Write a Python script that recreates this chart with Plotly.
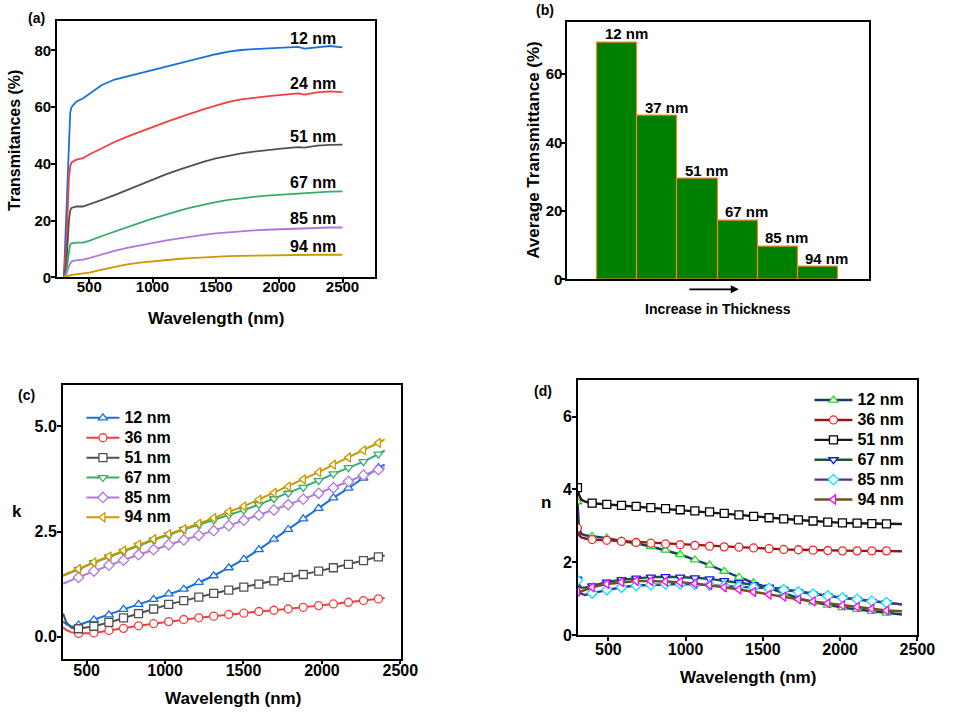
import plotly.graph_objects as go

W, H = 956, 718
FONT = "Liberation Sans, Arial, sans-serif"


def px(x):
    return x / W


def py(y):
    return 1 - y / H


# ---------------- Panel (a): transmittance spectra ----------------
a_wl = [300, 320, 340, 350, 360, 380, 400, 450, 500, 600, 700, 800, 900, 1000, 1100, 1200,
        1300, 1400, 1500, 1600, 1700, 1800, 1900, 2000, 2100, 2150, 2200, 2250, 2300, 2400, 2500]
a_names = ["12 nm", "24 nm", "51 nm", "67 nm", "85 nm", "94 nm"]
a_t12 = [0, 25, 52, 58, 60, 61, 62, 63, 64.5, 67.8, 69.7, 70.8, 72, 73.2, 74.3, 75.4,
         76.4, 77.4, 78.6, 79.5, 80.1, 80.4, 80.6, 80.8, 81.0, 81.2, 80.6, 80.8, 81.2, 81.5, 81.0]
a_t24 = [0, 12, 35, 39, 40.5, 41, 41.5, 42, 43.3, 45.5, 47.7, 49.6, 51.3, 53.1, 54.6, 56.2,
         57.8, 59.2, 60.5, 61.8, 62.7, 63.3, 63.8, 64.2, 64.6, 64.8, 64.4, 64.8, 65.2, 65.5, 65.3]
a_t51 = [0, 5, 20, 23.5, 24.5, 24.8, 25, 25, 25.7, 27.3, 29, 30.8, 32.7, 34.6, 36.2, 37.8,
         39.3, 40.7, 41.9, 42.9, 43.7, 44.3, 44.9, 45.3, 45.7, 45.9, 45.7, 46.0, 46.4, 46.7, 46.8]
a_t67 = [0, 2, 9, 11.5, 12, 12.2, 12.3, 12.3, 12.9, 14.6, 16.2, 17.6, 19.2, 20.7, 22.1, 23.4,
         24.6, 25.6, 26.5, 27.3, 27.9, 28.4, 28.8, 29.1, 29.4, 29.5, 29.5, 29.8, 30.0, 30.2, 30.3]
a_t85 = [0, 1, 4, 5, 5.6, 5.9, 6.0, 6.3, 6.8, 8.1, 9.4, 10.4, 11.3, 12.2, 13.0, 13.7,
         14.4, 15.0, 15.5, 15.9, 16.3, 16.6, 16.8, 17.0, 17.2, 17.3, 17.3, 17.4, 17.5, 17.6, 17.6]
a_t94 = [0, 0.3, 0.7, 0.8, 0.9, 1.0, 1.1, 1.4, 1.7, 2.8, 3.8, 4.6, 5.2, 5.7, 6.1, 6.5,
         6.8, 7.1, 7.3, 7.5, 7.6, 7.7, 7.8, 7.9, 7.9, 8.0, 8.0, 8.0, 8.0, 8.0, 8.0]
a_series = [a_t12, a_t24, a_t51, a_t67, a_t85, a_t94]
a_colors = ["#1A6FDF", "#F14040", "#515151", "#37AD6B", "#B177DE", "#CC9900"]

# ---------------- Panel (b): average transmittance ----------------
b_labels = ["12 nm", "37 nm", "51 nm", "67 nm", "85 nm", "94 nm"]
b_values = [69.3, 47.8, 29.3, 17.3, 9.7, 3.7]

# ---------------- Panel (c): extinction coefficient k ----------------
c_names = ["12 nm", "36 nm", "51 nm", "67 nm", "85 nm", "94 nm"]
c_wl = [350, 370, 400, 425,
        448, 546, 642, 735, 831, 927, 1023, 1119, 1215, 1310, 1406,
        1502, 1598, 1694, 1785, 1881, 1979, 2073, 2169, 2265, 2360,
        2400]
c_marker_wl = [448, 546, 642, 735, 831, 927, 1023, 1119, 1215, 1310, 1406,
               1502, 1598, 1694, 1785, 1881, 1979, 2073, 2169, 2265, 2360]
c_k12 = [0.36, 0.30, 0.25, 0.24,
         0.28, 0.40, 0.52, 0.65, 0.77, 0.89, 1.02, 1.13, 1.29, 1.45, 1.64,
         1.84, 2.07, 2.32, 2.55, 2.80, 3.05, 3.30, 3.53, 3.77, 4.02, 4.09]
c_k36 = [0.22, 0.16, 0.11, 0.09,
         0.08, 0.09, 0.15, 0.20, 0.26, 0.31, 0.36, 0.41, 0.45, 0.49, 0.53,
         0.56, 0.60, 0.63, 0.66, 0.70, 0.74, 0.78, 0.82, 0.86, 0.90, 0.92]
c_k51 = [0.55, 0.35, 0.22, 0.19,
         0.19, 0.25, 0.34, 0.45, 0.55, 0.66, 0.77, 0.86, 0.94, 1.03, 1.11,
         1.18, 1.25, 1.33, 1.41, 1.48, 1.56, 1.64, 1.72, 1.81, 1.90, 1.93]
c_k67 = [1.45, 1.48, 1.52, 1.56,
         1.60, 1.76, 1.90, 2.03, 2.17, 2.30, 2.42, 2.55, 2.66, 2.77, 2.89,
         3.01, 3.14, 3.28, 3.41, 3.55, 3.71, 3.87, 4.02, 4.16, 4.34, 4.43]
c_k85 = [1.26, 1.30, 1.34, 1.38,
         1.41, 1.56, 1.70, 1.82, 1.95, 2.07, 2.19, 2.30, 2.41, 2.52, 2.64,
         2.77, 2.89, 3.01, 3.14, 3.27, 3.41, 3.54, 3.69, 3.84, 3.97, 4.02]
c_k94 = [1.46, 1.50, 1.54, 1.57,
         1.61, 1.77, 1.91, 2.05, 2.19, 2.32, 2.44, 2.56, 2.69, 2.82, 2.97,
         3.10, 3.26, 3.42, 3.57, 3.74, 3.91, 4.09, 4.26, 4.43, 4.61, 4.69]
c_series = [c_k12, c_k36, c_k51, c_k67, c_k85, c_k94]
c_symbols = ["triangle-up", "circle", "square", "triangle-down", "diamond", "triangle-left"]

# ---------------- Panel (d): refractive index n ----------------
d_names = ["12 nm", "36 nm", "51 nm", "67 nm", "85 nm", "94 nm"]
d_wl = [300, 310, 325, 350,
        395, 490, 585, 680, 775, 870, 965, 1060, 1155, 1250, 1345,
        1440, 1540, 1635, 1730, 1825, 1920, 2015, 2110, 2205, 2300,
        2400]
d_marker_wl = [300, 395, 490, 585, 680, 775, 870, 965, 1060, 1155, 1250, 1345,
               1440, 1540, 1635, 1730, 1825, 1920, 2015, 2110, 2205, 2300]
d_n12 = [3.66, 2.95, 2.78, 2.74,
         2.71, 2.66, 2.58, 2.52, 2.43, 2.33, 2.21, 2.06, 1.92, 1.75, 1.58,
         1.43, 1.29, 1.14, 1.01, 0.90, 0.82, 0.75, 0.70, 0.65, 0.60, 0.56]
d_n36 = [2.94, 2.75, 2.68, 2.65,
         2.62, 2.60, 2.57, 2.54, 2.52, 2.50, 2.48, 2.46, 2.44, 2.42, 2.41,
         2.39, 2.37, 2.35, 2.34, 2.33, 2.32, 2.31, 2.31, 2.31, 2.31, 2.30]
d_n51 = [4.05, 3.85, 3.72, 3.66,
         3.62, 3.59, 3.56, 3.53, 3.50, 3.47, 3.44, 3.41, 3.38, 3.34, 3.30,
         3.26, 3.22, 3.19, 3.16, 3.13, 3.10, 3.08, 3.07, 3.06, 3.05, 3.05]
d_n67 = [1.53, 1.38, 1.30, 1.30,
         1.35, 1.45, 1.52, 1.56, 1.59, 1.60, 1.59, 1.57, 1.54, 1.49, 1.44,
         1.38, 1.31, 1.25, 1.18, 1.12, 1.07, 1.02, 0.97, 0.92, 0.88, 0.84]
d_n85 = [1.50, 1.25, 1.13, 1.10,
         1.15, 1.24, 1.31, 1.36, 1.38, 1.40, 1.40, 1.39, 1.37, 1.35, 1.33,
         1.31, 1.28, 1.24, 1.18, 1.12, 1.07, 1.02, 0.98, 0.93, 0.89, 0.84]
d_n94 = [1.19, 1.17, 1.20, 1.24,
         1.31, 1.40, 1.45, 1.48, 1.48, 1.47, 1.45, 1.41, 1.37, 1.31, 1.25,
         1.18, 1.11, 1.05, 0.98, 0.92, 0.87, 0.81, 0.77, 0.72, 0.67, 0.65]
d_series = [d_n12, d_n36, d_n51, d_n67, d_n85, d_n94]
d_line_colors = ["#1C3A6B", "#8B1A1A", "#1A1A1A", "#1E5634", "#5A2D86", "#6B5516"]
d_marker_colors = ["#22DD22", "#FF2020", "#000000", "#1010FF", "#00E5FF", "#FF00FF"]
d_symbols = ["triangle-up", "circle", "square", "triangle-down", "diamond", "triangle-left"]

fig = go.Figure()

# (a)
for name, vals, col in zip(a_names, a_series, a_colors):
    fig.add_trace(go.Scatter(x=a_wl, y=vals, mode="lines", line=dict(color=col, width=1.8),
                             showlegend=False, xaxis="x", yaxis="y", name=name))

# (b)
fig.add_trace(go.Bar(x=list(range(len(b_values))), y=b_values, width=1,
                     marker=dict(color="#008000", line=dict(color="#F08A1A", width=1.2)),
                     showlegend=False, xaxis="x2", yaxis="y2"))


def add_marked_series(wl, marker_wl, vals, name, line_col, mk_col, sym, xa, ya, leg, lw, ms, fs):
    mx = [w for w in wl if w in marker_wl]
    my = [v for w, v in zip(wl, vals) if w in marker_wl]
    fig.add_trace(go.Scatter(x=wl, y=vals, mode="lines", line=dict(color=line_col, width=lw),
                             showlegend=False, xaxis=xa, yaxis=ya, hoverinfo="skip"))
    fig.add_trace(go.Scatter(x=mx, y=my, mode="markers",
                             marker=dict(symbol=sym, size=ms, color="white",
                                         line=dict(color=mk_col, width=1.3)),
                             showlegend=False, xaxis=xa, yaxis=ya, name=name))
    fig.add_trace(go.Scatter(x=[None], y=[None], mode="lines+markers",
                             name='<span style="font-size:%dpx">%s</span>' % (fs, name),
                             line=dict(color=line_col, width=lw),
                             marker=dict(symbol=sym, size=ms, color="white",
                                         line=dict(color=mk_col, width=1.3)),
                             xaxis=xa, yaxis=ya, legend=leg, showlegend=True))


# (c)
for name, vals, col, sym in zip(c_names, c_series, a_colors, c_symbols):
    add_marked_series(c_wl, c_marker_wl, vals, name, col, col, sym, "x3", "y3", "legend", 2, 8, 16)

# (d)
for name, vals, lc, mc, sym in zip(d_names, d_series, d_line_colors, d_marker_colors, d_symbols):
    add_marked_series(d_wl, d_marker_wl, vals, name, lc, mc, sym, "x4", "y4", "legend2", 2.4, 8, 16)

tickfont = dict(family=FONT, size=15, color="black", weight="bold")


def axis(domain, rng, **kw):
    d = dict(domain=domain, range=rng, showline=True, linecolor="black", linewidth=1.6,
             mirror=True, ticks="outside", ticklen=4, tickwidth=1.5, tickcolor="black",
             showgrid=False, zeroline=False, tickfont=tickfont, fixedrange=True)
    d.update(kw)
    return d


big_tick = dict(family=FONT, size=16, color="black", weight="bold")
layout = dict(
    width=W, height=H, margin=dict(l=0, r=0, t=0, b=0),
    paper_bgcolor="white", plot_bgcolor="white",
    font=dict(family=FONT, color="black"),
    bargap=0,
    xaxis=axis([px(58), px(382)], [245, 2755], anchor="y", tickvals=[500, 1000, 1500, 2000, 2500],
               ticklabelstandoff=-9),
    yaxis=axis([py(281), py(21)], [0, 90.4], anchor="x", tickvals=[0, 20, 40, 60, 80],
               ticklabelstandoff=-3),
    xaxis2=axis([px(578), px(886)], [-1.26, 6.29], anchor="y2", ticks="", showticklabels=False),
    yaxis2=axis([py(283), py(22)], [0, 75.3], anchor="x2", tickvals=[0, 20, 40, 60],
                ticklabelstandoff=-4),
    xaxis3=axis([px(64), px(409)], [348, 2506], anchor="y3", tickvals=[500, 1000, 1500, 2000, 2500],
                tickfont=big_tick, ticklabelstandoff=-8),
    yaxis3=axis([py(667), py(390)], [-0.52, 5.98], anchor="x3", tickvals=[0, 2.5, 5.0],
                tickformat=".1f", tickfont=big_tick, ticklabelstandoff=-3),
    xaxis4=axis([px(589), px(935)], [303, 2500], anchor="y4", tickvals=[500, 1000, 1500, 2000, 2500],
                tickfont=big_tick, ticklabelstandoff=-5),
    yaxis4=axis([py(643), py(385)], [0, 7.0], anchor="x4", tickvals=[0, 2, 4, 6],
                tickfont=big_tick, ticklabelstandoff=-3),
    legend=dict(x=px(83), y=py(408), xanchor="left", yanchor="top", bgcolor="rgba(0,0,0,0)",
                font=dict(family=FONT, size=13, color="black", weight="bold"),
                tracegroupgap=0, itemwidth=33),
    legend2=dict(x=px(825), y=py(390), xanchor="left", yanchor="top", bgcolor="rgba(0,0,0,0)",
                 font=dict(family=FONT, size=13, color="black", weight="bold"),
                 tracegroupgap=0, itemwidth=38),
)
fig.update_layout(**layout)

ann = []


def text_ann(x, y, text, size, angle=0, xanchor="center", yanchor="middle"):
    ann.append(dict(x=px(x), y=py(y), xref="paper", yref="paper", text=text, showarrow=False,
                    textangle=angle, xanchor=xanchor, yanchor=yanchor,
                    font=dict(family=FONT, size=size, color="black", weight="bold")))


# panel letters
text_ann(37, 18, "(a)", 14)
text_ann(555, 10, "(b)", 14)
text_ann(27, 400, "(c)", 14)
text_ann(553, 396, "(d)", 14)
# axis titles
text_ann(220, 323, "Wavelength (nm)", 17)
text_ann(14, 142, "Transmitances (%)", 16, angle=-90)
text_ann(543, 152, "Average Transmittance (%)", 17, angle=-90)
text_ann(732, 313, "Increase in Thickness", 14)
text_ann(237, 707, "Wavelength (nm)", 17)
text_ann(17, 518, "k", 17)
text_ann(762, 686, "Wavelength (nm)", 17)
text_ann(556, 509, "n", 17)

# curve labels in (a)
for name, vals in zip(a_names, a_series):
    ann.append(dict(x=2265, y=vals[-1], xref="x", yref="y", text=name, showarrow=False,
                    xanchor="center", yanchor="bottom", yshift=-2,
                    font=dict(family=FONT, size=16, color="black", weight="bold")))

# bar labels in (b)
for i, (lab, v) in enumerate(zip(b_labels, b_values)):
    ann.append(dict(x=i, y=v, xref="x2", yref="y2", text=lab, showarrow=False,
                    xanchor="center", yanchor="bottom", xshift=9, yshift=-2,
                    font=dict(family=FONT, size=15, color="black", weight="bold")))

# arrow in (b)
ann.append(dict(x=px(753), y=py(293), xref="paper", yref="paper", ax=-51, ay=0,
                axref="pixel", ayref="pixel", text="", showarrow=True, arrowhead=2,
                arrowsize=1, arrowwidth=1.6, arrowcolor="black"))

fig.update_layout(annotations=ann)
fig.write_html("out.html")
